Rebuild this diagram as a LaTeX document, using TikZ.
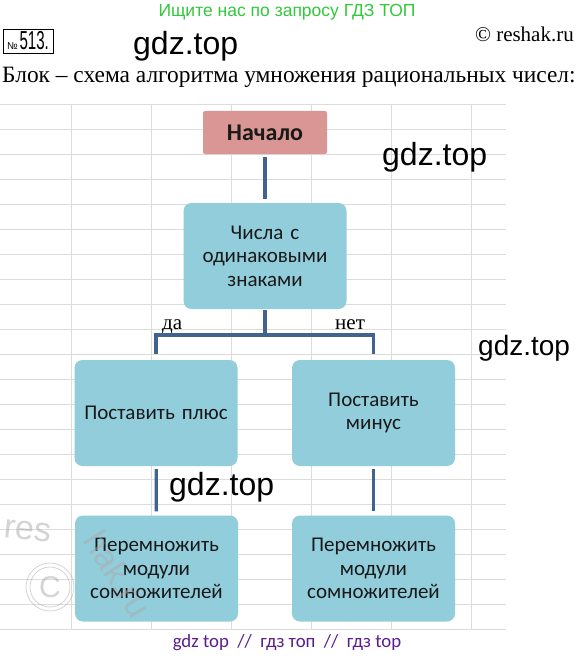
\documentclass[tikz,border=0pt]{standalone}
\usepackage{fontspec}
\usepackage{graphicx}
\setmainfont{Liberation Serif}
\newfontfamily\calfont{Carlito}
\newfontfamily\arifont{Liberation Sans}
\definecolor{gridc}{RGB}{220,220,220}
\definecolor{boxblue}{RGB}{146,205,220}
\definecolor{boxpink}{RGB}{217,150,148}
\definecolor{connc}{RGB}{65,100,143}
\definecolor{wmgreen}{RGB}{50,200,60}
\definecolor{wmpurple}{RGB}{90,30,140}
\definecolor{wmgray}{RGB}{170,170,170}
\begin{document}
\begin{tikzpicture}[x=1pt,y=-1pt,
  gridline/.style={draw=gridc, line width=1pt},
  blockbox/.style={rounded corners=8pt, fill=boxblue, minimum width=163pt, minimum height=106pt,
    text width=158pt, align=center, font=\calfont\fontsize{21}{23.5}\selectfont, text=black!90, inner sep=0pt},
  startbox/.style={rounded corners=2pt, fill=boxpink, minimum width=124pt, minimum height=43pt,
    font=\calfont\bfseries\fontsize{24}{26}\selectfont, text=black!90, inner sep=0pt},
  link/.style={draw=connc, line width=3.2pt},
  wmtext/.style={inner sep=0pt, font=\arifont\fontsize{32}{32}\selectfont},
  wmlogo/.style={inner sep=0pt, text=wmgray, text opacity=0.5, font=\arifont\fontsize{34}{34}\selectfont}
]
\useasboundingbox (0,0) rectangle (577,658);
\fill[white] (0,0) rectangle (577,658);
% grid
\foreach \k in {0,...,21} \draw[gridline] (0,{104.5+25*\k}) -- (506,{104.5+25*\k});
\foreach \k in {0,...,5} \draw[gridline] ({71.7+80*\k},104.5) -- ({71.7+80*\k},629.5);

% header
\node[anchor=base, inner sep=0pt, text=wmgreen, font=\arifont\fontsize{17.5}{18}\selectfont] (h1) at (287,17) {Ищите нас по запросу ГДЗ ТОП};
\node[draw, line width=0.9pt, minimum width=50pt, minimum height=24pt, inner sep=0pt] (num) at (28,41)
  {\raisebox{0.5pt}{\arifont\fontsize{10}{10}\selectfont №}\,\scalebox{0.58}[1]{\arifont\fontsize{26}{26}\selectfont 513.}};
\node[wmtext, anchor=base west] (g1) at (133,55) {gdz.top};
\node[anchor=base east, inner sep=0pt, font=\fontsize{21}{21}\selectfont] (rs) at (574,42) {© reshak.ru};
\node[anchor=base west, inner sep=0pt, font=\fontsize{23.4}{23.4}\selectfont] (title) at (2,83) {Блок – схема алгоритма умножения рациональных чисел:};

% blocks
\node[startbox] (start) at (265,132.5) {Начало};
\node[blockbox] (cond) at (265,256) {Числа с\\одинаковыми\\знаками};
\node[blockbox] (plus) at (156,413) {Поставить плюс};
\node[blockbox] (minus) at (373.5,413) {Поставить\\минус};
\node[blockbox] (mul1) at (156.5,568.5) {Перемножить\\модули\\сомножителей};
\node[blockbox] (mul2) at (373.5,568.5) {Перемножить\\модули\\сомножителей};

% connectors
\coordinate (j) at (265,335);
\draw[link, shorten <=3pt, shorten >=4pt] (start) -- (cond);
\draw[link, shorten <=1pt] (cond.south) -- (j);
\draw[link, shorten <=6pt, shorten >=6pt] (plus.north) -- (plus.north |- j) -- (minus.north |- j) -- (minus.north);
\draw[link, shorten <=3pt, shorten >=4pt] (plus) -- (mul1);
\draw[link, shorten <=3pt, shorten >=4pt] (minus) -- (mul2);

\node[anchor=base west, inner sep=0pt, font=\fontsize{21}{21}\selectfont] (yes) at (162,329) {да};
\node[anchor=base west, inner sep=0pt, font=\fontsize{21}{21}\selectfont] (no) at (335,329) {нет};

% gdz.top marks
\node[wmtext, anchor=base west] (g2) at (382,165) {gdz.top};
\node[wmtext, anchor=base west, font=\arifont\fontsize{28}{28}\selectfont] (g3) at (478,355) {gdz.top};
\node[wmtext, anchor=base west] (g4) at (169,495) {gdz.top};

\node[anchor=base, inner sep=0pt, text=wmpurple, font=\calfont\fontsize{18.8}{18.8}\selectfont] (foot) at (287,647) {gdz top \ // \ гдз топ \ // \ гдз top};

% watermark logo (drawn on top)
\node[wmlogo, anchor=base west, rotate=-6] (wres) at (3,537) {res};
\node[wmlogo, rotate=-58] (whak) at (118,574) {hak.ru};
\draw[wmgray, opacity=0.5, line width=0.8pt] (50,587) circle (24pt);
\draw[wmgray, opacity=0.5, line width=0.8pt] (50,587) circle (20pt);
\node[wmlogo, font=\arifont\fontsize{30}{30}\selectfont] (wc) at (50,587) {C};
\end{tikzpicture}
\end{document}
